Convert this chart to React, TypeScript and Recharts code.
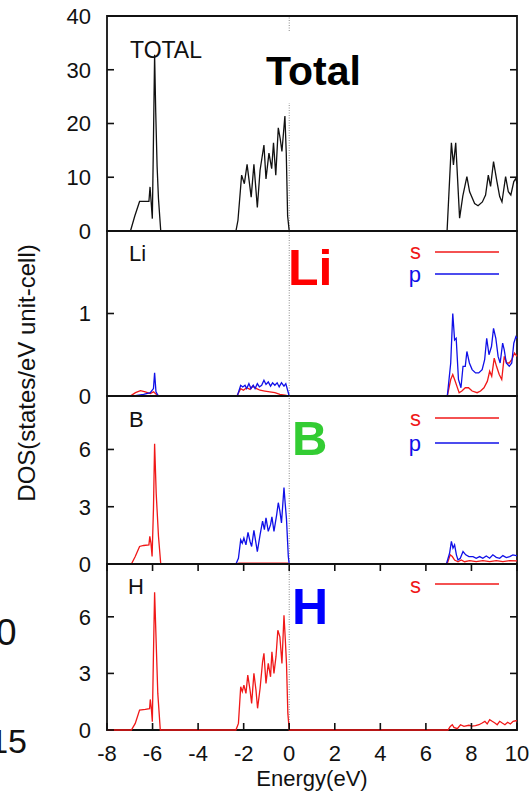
import React from 'react';
import { LineChart, Line, XAxis, YAxis, ReferenceLine, ReferenceArea } from 'recharts';

type Pt = [number, number]; // [energy eV, DOS]

const xTicks = [-8, -6, -4, -2, 0, 2, 4, 6, 8, 10];

const totalDos: Pt[] = [
  [-8, 0], [-6.97, 0], [-6.78, 2.8], [-6.57, 5.5], [-6.16, 5.5], [-6.11, 8.2], [-6.06, 5.3], [-6.01, 2.3],
  [-5.97, 14], [-5.91, 32.8], [-5.86, 22], [-5.8, 12], [-5.74, 6], [-5.64, 0],
  [-2.34, 0], [-2.25, 2], [-2.09, 10.4], [-1.97, 8.8], [-1.85, 12.4], [-1.67, 6.3], [-1.55, 12.4],
  [-1.4, 4.4], [-1.28, 11.3], [-1.11, 16], [-1.02, 9.7], [-0.89, 14.5], [-0.77, 11.6], [-0.69, 16.4],
  [-0.59, 10.4], [-0.48, 19.2], [-0.4, 17.3], [-0.32, 14.8], [-0.19, 21.4], [-0.13, 14.5], [-0.07, 2.8], [0, 0],
  [6.93, 0], [7.12, 16.4], [7.21, 12.3], [7.31, 16.4], [7.48, 2.4], [7.62, 6.5], [7.8, 10.1], [7.92, 7.3],
  [8.14, 5.1], [8.29, 4.7], [8.48, 5.4], [8.62, 6.7], [8.74, 10.4], [8.84, 8.3], [8.97, 12.9], [9.12, 9.2],
  [9.24, 6.4], [9.34, 5.4], [9.5, 10.1], [9.62, 7.3], [9.73, 6.7], [9.86, 9.2], [9.95, 9.8], [10, 8.8],
];

const liS: Pt[] = [
  [-8, 0], [-6.98, 0], [-6.75, 0.04], [-6.53, 0.065], [-6.32, 0.05], [-6.1, 0.03], [-5.96, 0.05], [-5.84, 0.02], [-5.74, 0],
  [-2.3, 0], [-2.13, 0.09], [-2.01, 0.07], [-1.87, 0.1], [-1.72, 0.08], [-1.61, 0.12], [-1.43, 0.09], [-1.28, 0.07],
  [-1.07, 0.06], [-0.85, 0.05], [-0.63, 0.04], [-0.41, 0.02], [-0.19, 0.01], [-0.04, 0],
  [6.94, 0], [7.09, 0.2], [7.18, 0.26], [7.26, 0.2], [7.36, 0.12], [7.46, 0.04], [7.58, 0.06], [7.73, 0.1], [7.87, 0.1],
  [8.03, 0.06], [8.25, 0.04], [8.4, 0.06], [8.55, 0.1], [8.7, 0.18], [8.8, 0.3], [8.89, 0.24], [9.0, 0.46], [9.1, 0.36],
  [9.22, 0.26], [9.33, 0.2], [9.44, 0.48], [9.55, 0.4], [9.66, 0.4], [9.77, 0.44], [9.89, 0.52], [10, 0.48],
];

const liP: Pt[] = [
  [-8, 0], [-6.83, 0], [-6.39, 0.02], [-6.1, 0.04], [-5.96, 0.09], [-5.91, 0.28], [-5.85, 0.05], [-5.77, 0.01], [-5.69, 0],
  [-2.28, 0], [-2.13, 0.13], [-2.04, 0.11], [-1.94, 0.13], [-1.87, 0.09], [-1.77, 0.15], [-1.68, 0.09], [-1.58, 0.13],
  [-1.5, 0.09], [-1.4, 0.15], [-1.31, 0.11], [-1.21, 0.13], [-1.11, 0.19], [-1.02, 0.14], [-0.92, 0.17], [-0.82, 0.12],
  [-0.73, 0.16], [-0.63, 0.13], [-0.53, 0.16], [-0.44, 0.11], [-0.34, 0.16], [-0.23, 0.12], [-0.15, 0.15], [-0.07, 0.07], [0, 0],
  [6.94, 0], [7.09, 0.4], [7.18, 1.0], [7.26, 0.68], [7.33, 0.7], [7.43, 0.2], [7.54, 0.1], [7.63, 0.36], [7.73, 0.36],
  [7.8, 0.54], [7.91, 0.4], [8.03, 0.32], [8.18, 0.28], [8.32, 0.28], [8.47, 0.32], [8.58, 0.44], [8.67, 0.7], [8.77, 0.5],
  [8.88, 0.6], [8.97, 0.82], [9.07, 0.7], [9.17, 0.48], [9.26, 0.4], [9.37, 0.64], [9.44, 0.56], [9.53, 0.4], [9.66, 0.36],
  [9.77, 0.4], [9.86, 0.64], [9.95, 0.72], [10, 0.7],
];

const bS: Pt[] = [
  [-8, 0], [-6.93, 0], [-6.76, 0.39], [-6.57, 0.92], [-6.39, 0.97], [-6.16, 1.0], [-6.12, 1.45], [-6.07, 1.09], [-6.02, 0.39],
  [-5.96, 2.9], [-5.91, 6.3], [-5.84, 3.7], [-5.74, 1.45], [-5.64, 0],
  [-2.34, 0], [-2.2, 0.04], [-1.5, 0.05], [-0.5, 0.05], [-0.05, 0.04], [0, 0],
  [6.93, 0], [7.07, 0.48], [7.16, 0.39], [7.26, 0.21], [7.41, 0.12], [7.55, 0.21], [7.7, 0.12], [7.92, 0.18], [8.21, 0.12],
  [8.5, 0.18], [8.8, 0.12], [9.09, 0.18], [9.38, 0.12], [9.68, 0.18], [10, 0.16],
];

const bP: Pt[] = [
  [-8, 0], [-2.34, 0], [-2.23, 0.3], [-2.13, 1.27], [-2.06, 1.09], [-1.99, 1.36], [-1.9, 1.0], [-1.81, 1.66], [-1.72, 1.18],
  [-1.65, 0.92], [-1.55, 1.76], [-1.46, 1.09], [-1.4, 0.65], [-1.28, 1.53], [-1.17, 2.24], [-1.09, 1.8], [-1.02, 2.42],
  [-0.92, 1.71], [-0.82, 2.06], [-0.76, 2.47], [-0.67, 1.71], [-0.55, 2.59], [-0.48, 3.21], [-0.41, 2.77], [-0.34, 2.15],
  [-0.23, 4.0], [-0.18, 3.21], [-0.12, 2.35], [-0.04, 0.39], [0, 0],
  [6.9, 0], [7.04, 0.56], [7.12, 1.18], [7.19, 0.83], [7.26, 1.0], [7.34, 0.48], [7.41, 0.21], [7.51, 0.3], [7.63, 0.65],
  [7.75, 0.48], [7.89, 0.39], [8.07, 0.39], [8.21, 0.3], [8.36, 0.39], [8.5, 0.3], [8.65, 0.42], [8.8, 0.3], [8.94, 0.48],
  [9.09, 0.35], [9.24, 0.3], [9.38, 0.44], [9.53, 0.34], [9.68, 0.39], [9.82, 0.48], [9.97, 0.44], [10, 0.44],
];

const hS: Pt[] = [
  [-8, 0], [-6.93, 0], [-6.76, 0.35], [-6.57, 1.06], [-6.32, 1.09], [-6.13, 1.13], [-6.1, 1.62], [-6.06, 1.23], [-6.01, 0.44],
  [-5.96, 4.06], [-5.91, 7.3], [-5.84, 4.6], [-5.77, 1.94], [-5.66, 0],
  [-2.34, 0], [-2.23, 0.35], [-2.13, 2.29], [-2.06, 2.03], [-1.99, 2.38], [-1.9, 1.94], [-1.82, 2.91], [-1.72, 2.12],
  [-1.65, 1.41], [-1.55, 3.0], [-1.46, 2.12], [-1.39, 1.15], [-1.28, 2.2], [-1.17, 3.62], [-1.11, 4.06], [-1.02, 2.47],
  [-0.92, 3.53], [-0.82, 2.82], [-0.76, 4.14], [-0.67, 3.0], [-0.58, 3.9], [-0.5, 5.29], [-0.41, 4.94], [-0.32, 3.53],
  [-0.23, 6.08], [-0.17, 4.76], [-0.12, 3.53], [-0.06, 0.88], [0, 0],
  [6.97, 0], [7.07, 0.19], [7.16, 0.28], [7.23, 0.14], [7.38, 0.07], [7.52, 0.28], [7.67, 0.19], [7.89, 0.25], [8.03, 0.21],
  [8.18, 0.23], [8.33, 0.28], [8.47, 0.37], [8.59, 0.46], [8.69, 0.32], [8.8, 0.55], [8.91, 0.46], [9.03, 0.37], [9.13, 0.28],
  [9.24, 0.46], [9.35, 0.37], [9.47, 0.28], [9.59, 0.41], [9.71, 0.32], [9.83, 0.46], [9.95, 0.49], [10, 0.48],
];

const totalTicks = [0, 10, 20, 30, 40];
const liTicks = [0, 1];
const bTicks = [0, 3, 6];
const hTicks = [0, 3, 6];

const FONT = '"Liberation Sans", Arial, Helvetica, sans-serif';
const W = 531;
const PLOT_L = 107;
const PLOT_R = 517;
const Y_AXIS_W = 60;
const PAD = 14;

const RED = '#f01818';
const BLUE = '#1010e8';

const rows = (pts: Pt[]) => pts.map(([e, v]) => ({ e, v }));

type Series = { name: string; pts: Pt[]; color: string };

function Panel({ top, height, yMax, yTicks, series, bottom }: {
  top: number; height: number; yMax: number; yTicks: number[]; series: Series[]; bottom?: boolean;
}) {
  const axisH = bottom ? 57 : 0;
  const plotW = PLOT_R - PLOT_L;

  const xTick = (p: any) => {
    const { x, y, payload } = p;
    return (
      <g>
        <line x1={x} x2={x} y1={y} y2={y - 7} stroke="#111" strokeWidth={1.6} />
        <line x1={x} x2={x} y1={y - height} y2={y - height + 7} stroke="#111" strokeWidth={1.6} />
        {bottom && (
          <text x={x} y={y + 31} textAnchor="middle" fontSize={22} fontFamily={FONT} fill="#111">{payload.value}</text>
        )}
      </g>
    );
  };

  const yTick = (p: any) => {
    const { x, y, payload } = p;
    return (
      <g>
        <line x1={x} x2={x + 7} y1={y} y2={y} stroke="#111" strokeWidth={1.6} />
        <line x1={x + plotW - 7} x2={x + plotW} y1={y} y2={y} stroke="#111" strokeWidth={1.6} />
        <text x={x - 16} y={y} dy="0.36em" textAnchor="end" fontSize={22} fontFamily={FONT} fill="#111">{payload.value}</text>
      </g>
    );
  };

  return (
    <div style={{ position: 'absolute', left: 0, top: top - PAD }}>
      <LineChart
        width={W}
        height={height + axisH + PAD * 2}
        margin={{ top: PAD, right: W - PLOT_R, bottom: PAD, left: PLOT_L - Y_AXIS_W }}
      >
        <XAxis
          dataKey="e"
          type="number"
          domain={[-8, 10]}
          ticks={xTicks}
          interval={0}
          tickSize={0}
          tickMargin={0}
          axisLine={false}
          tickLine={false}
          height={axisH}
          tick={xTick}
          label={bottom ? { value: 'Energy(eV)', position: 'insideBottom', offset: 1, fontSize: 22, fontFamily: FONT, fill: '#111' } : undefined}
        />
        <YAxis
          type="number"
          domain={[0, yMax]}
          ticks={yTicks}
          interval={0}
          width={Y_AXIS_W}
          tickSize={0}
          tickMargin={0}
          axisLine={false}
          tickLine={false}
          tick={yTick}
        />
        <ReferenceArea x1={-8} x2={10} y1={0} y2={yMax} fill="none" fillOpacity={0} stroke="#111" strokeWidth={1.8} />
        <ReferenceLine x={0} stroke="#8a8a8a" strokeWidth={1} strokeDasharray="1 1.5" />
        {series.map((s) => (
          <Line
            key={s.name}
            name={s.name}
            data={rows(s.pts)}
            dataKey="v"
            type="linear"
            stroke={s.color}
            strokeWidth={1.3}
            dot={false}
            activeDot={false}
            isAnimationActive={false}
          />
        ))}
      </LineChart>
    </div>
  );
}

export default function App() {
  return (
    <div style={{ position: 'absolute', left: 0, top: 0, width: W, height: 791, overflow: 'hidden', background: '#fff', fontFamily: FONT }}>
      <Panel top={16} height={215} yMax={40} yTicks={totalTicks} series={[{ name: 'total', pts: totalDos, color: '#111' }]} />
      <Panel top={231} height={165} yMax={2} yTicks={liTicks} series={[{ name: 's', pts: liS, color: RED }, { name: 'p', pts: liP, color: BLUE }]} />
      <Panel top={396} height={168} yMax={8.8} yTicks={bTicks} series={[{ name: 's', pts: bS, color: RED }, { name: 'p', pts: bP, color: BLUE }]} />
      <Panel top={564} height={166} yMax={8.8} yTicks={hTicks} series={[{ name: 's', pts: hS, color: RED }]} bottom />

      <svg width={W} height={791} style={{ position: 'absolute', left: 0, top: 0, pointerEvents: 'none' }} fontFamily={FONT}>
        <rect x={262} y={31} width={110} height={72} fill="#fff" />
        <text x={266} y={84.5} fontSize={41} fontWeight="bold" fill="#000">Total</text>
        <text x={288} y={285} fontSize={50} fontWeight="bold" fill="#ff0000">Li</text>
        <text x={292} y={455} fontSize={49} fontWeight="bold" fill="#33cc33">B</text>
        <text x={292} y={624} fontSize={50} fontWeight="bold" fill="#0000ff">H</text>

        <text x={130} y={57.5} fontSize={23} fill="#111">TOTAL</text>
        <text x={129} y={261} fontSize={22} fill="#111">Li</text>
        <text x={129} y={427} fontSize={22} fill="#111">B</text>
        <text x={128} y={594} fontSize={22} fill="#111">H</text>

        <text x={421} y={259} fontSize={22} textAnchor="end" fill={RED}>s</text>
        <line x1={435} x2={499} y1={252} y2={252} stroke={RED} strokeWidth={1.3} />
        <text x={421} y={282} fontSize={22} textAnchor="end" fill={BLUE}>p</text>
        <line x1={435} x2={499} y1={274} y2={274} stroke={BLUE} strokeWidth={1.3} />

        <text x={421} y={426} fontSize={22} textAnchor="end" fill={RED}>s</text>
        <line x1={435} x2={499} y1={418} y2={418} stroke={RED} strokeWidth={1.3} />
        <text x={421} y={451} fontSize={22} textAnchor="end" fill={BLUE}>p</text>
        <line x1={435} x2={499} y1={443} y2={443} stroke={BLUE} strokeWidth={1.3} />

        <text x={421} y={593} fontSize={22} textAnchor="end" fill={RED}>s</text>
        <line x1={435} x2={499} y1={584} y2={584} stroke={RED} strokeWidth={1.3} />

        <text transform="translate(26,373) rotate(-90)" textAnchor="middle" dominantBaseline="central" fontSize={24} fill="#111">
          DOS(states/eV unit-cell)
        </text>

        <text x={16.5} y={645} fontSize={37} textAnchor="end" fill="#111">0</text>
        <text x={27} y={753} fontSize={34} textAnchor="end" fill="#111">15</text>
      </svg>
    </div>
  );
}
